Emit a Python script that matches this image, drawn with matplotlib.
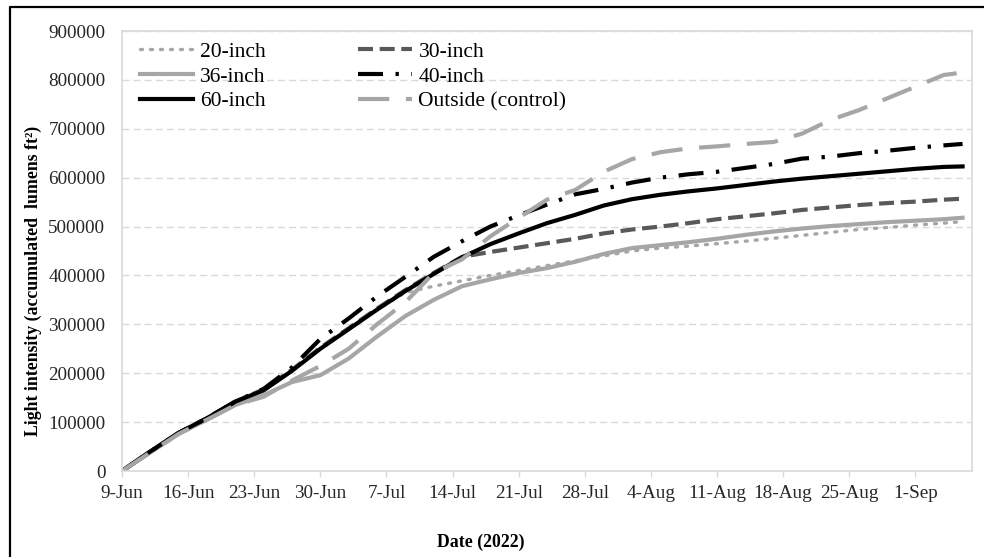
import numpy as np
import pandas as pd
import matplotlib
matplotlib.use('Agg')
import matplotlib.pyplot as plt
from matplotlib.lines import Line2D

plt.rcParams['font.family'] = ['Liberation Serif', 'DejaVu Serif']

# sample dates (every 3 days)
dates = pd.to_datetime([
  '2022-06-09', '2022-06-12', '2022-06-15', '2022-06-18', '2022-06-21', '2022-06-24',
  '2022-06-27', '2022-06-30', '2022-07-03', '2022-07-06', '2022-07-09', '2022-07-12',
  '2022-07-15', '2022-07-18', '2022-07-21', '2022-07-24', '2022-07-27', '2022-07-30',
  '2022-08-02', '2022-08-05', '2022-08-08', '2022-08-11', '2022-08-14', '2022-08-17',
  '2022-08-20', '2022-08-23', '2022-08-26', '2022-08-29', '2022-09-01', '2022-09-04',
  '2022-09-06'])

in20 = [0, 40000, 78000, 108000, 142000, 165000, 205000, 250000, 290000, 330000, 365000, 378000,
        389000, 400000, 410000, 420000, 430000, 440000, 450000, 456000, 460000, 465000, 470000,
        476000, 482000, 488000, 494000, 498000, 503000, 507000, 510000]
in30 = [0, 40000, 78000, 108000, 142000, 167000, 207000, 252000, 292000, 332000, 370000, 405000,
        438000, 448000, 457000, 466000, 475000, 486000, 494000, 500000, 507000, 515000, 521000,
        527000, 534000, 539000, 544000, 548000, 551000, 555000, 557000]
in36 = [0, 38000, 76000, 105000, 135000, 155000, 182000, 196000, 230000, 275000, 317000, 350000,
        378000, 392000, 405000, 415000, 428000, 444000, 456000, 462000, 468000, 475000, 483000,
        490000, 496000, 501000, 505000, 509000, 512000, 515000, 518000]
in40 = [0, 40000, 78000, 108000, 142000, 168000, 212000, 270000, 312000, 357000, 397000, 438000,
        470000, 500000, 523000, 545000, 566000, 577000, 590000, 600000, 607000, 612000, 620000,
        628000, 639000, 643000, 650000, 655000, 661000, 666000, 669000]
in60 = [0, 40000, 78000, 108000, 142000, 165000, 205000, 250000, 290000, 330000, 368000, 403000,
        437000, 464000, 486000, 507000, 524000, 543000, 556000, 565000, 572000, 578000, 585000,
        592000, 598000, 603000, 608000, 613000, 618000, 622000, 623000]
outside = [0, 38000, 76000, 105000, 135000, 152000, 185000, 215000, 250000, 300000, 345000, 405000,
           433000, 480000, 518000, 555000, 575000, 612000, 638000, 652000, 660000, 664000, 669000,
           673000, 690000, 718000, 738000, 762000, 786000, 810000, 815000]

W, H = 984, 557
fig = plt.figure(figsize=(W / 100, H / 100), dpi=100)
ax = fig.add_axes([122 / W, 1 - 471 / H, (972 - 122) / W, (471 - 31) / H])

gray = '#a6a6a6'
l20, = ax.plot(dates, in20, color=gray, lw=2.4, dashes=(0.6, 2.4), dash_capstyle='round', label='20-inch')
l30, = ax.plot(dates, in30, color='#595959', lw=3, dashes=(3.6, 1.6), label='30-inch')
l36, = ax.plot(dates, in36, color=gray, lw=3, label='36-inch')
l40, = ax.plot(dates, in40, color='black', lw=3, dashes=(6, 3, 0.8, 3), label='40-inch')
l60, = ax.plot(dates, in60, color='black', lw=3, label='60-inch')
lout, = ax.plot(dates, outside, color=gray, lw=3, dashes=(7.5, 4), label='Outside (control)')

ax.set_ylim(0, 900000)
ax.set_yticks(np.arange(0, 900001, 100000))
ax.yaxis.set_major_formatter(plt.FuncFormatter(lambda v, p: '%d' % v))
ax.set_xlim(pd.Timestamp('2022-06-09'), pd.Timestamp('2022-09-07'))
xt = pd.date_range('2022-06-09', '2022-09-01', freq='7D')
ax.set_xticks(xt)
ax.set_xticklabels(['%d-%s' % (d.day, d.strftime('%b')) for d in xt])

ax.grid(axis='y', color='#d9d9d9', lw=1, dashes=(5, 3))
ax.set_axisbelow(True)
for s in ax.spines.values():
  s.set_color('#d9d9d9')
  s.set_linewidth(1.2)
ax.tick_params(axis='y', length=0, pad=12, labelsize=13.8, colors='#262626')
ax.tick_params(axis='x', length=4, width=1, color='#d9d9d9', pad=6, labelsize=13.8, labelcolor='#262626')

ax.legend(handles=[l20, l36, l60, l30, l40, lout], ncol=2, loc='upper left',
          bbox_to_anchor=(0.008, 1.0), frameon=False, fontsize=15.5, handlelength=2.5,
          handletextpad=0.3, columnspacing=4.3, labelspacing=0.22, borderaxespad=0.1)

fig.text(481 / W, 1 - 542 / H, 'Date (2022)', ha='center', va='center', fontsize=12.8, fontweight='bold')
fig.text(33 / W, 1 - 281 / H, 'Light intensity (accumulated  lumens ft\u00b2)', ha='center', va='center',
         rotation=90, fontsize=12.8, fontweight='bold')

# outer frame (left and top edges visible)
fig.add_artist(Line2D([10 / W, 10 / W, 1.01], [-0.01, 1 - 7 / H, 1 - 7 / H], color='black', lw=1.6,
                      transform=fig.transFigure))

fig.savefig('out.png', dpi=100)
